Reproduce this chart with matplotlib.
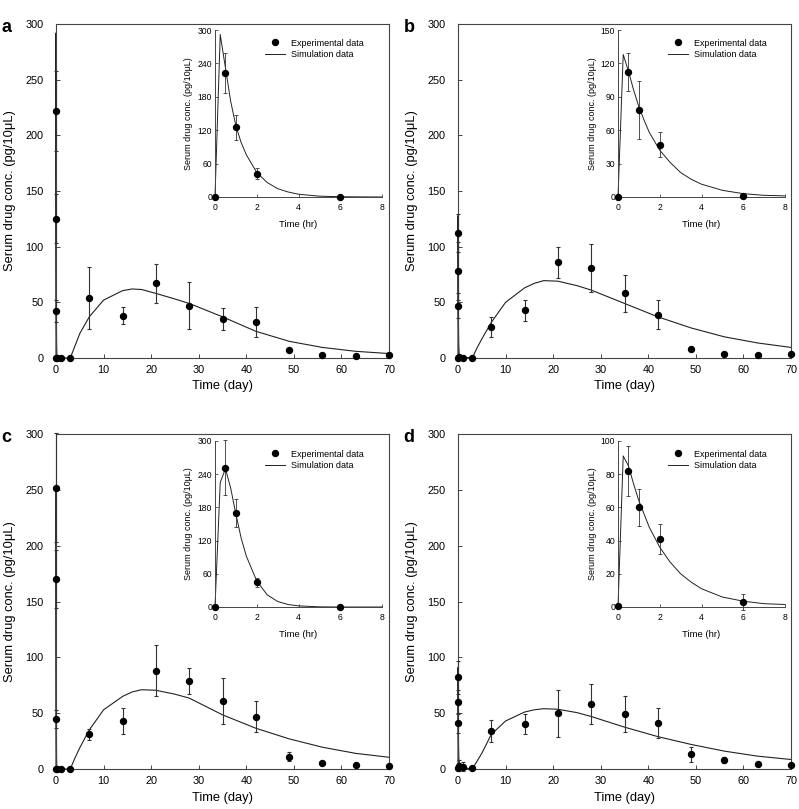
import matplotlib
matplotlib.use('Agg')
import matplotlib.pyplot as plt
import numpy as np

plt.rcParams['font.family'] = ['Liberation Sans', 'DejaVu Sans']

# ===== sampling times =====
hr_t = [0, 0.5, 1, 2, 6]                                  # hours (inset)
day_t = [1, 3, 7, 14, 21, 28, 35, 42, 49, 56, 63, 70]    # days
sim_hr_t = [0, 0.25, 0.5, 0.75, 1, 1.25, 1.5, 2, 2.5, 3, 3.5, 4, 5, 6, 7, 8]
sim_day_t = [3, 4, 5, 7, 10, 14, 16, 18, 21, 25, 28, 35, 42, 49, 56, 63, 70]

# ===== panel a =====
a_hr = [0, 222, 125, 42, 0]
a_hr_err = [0, 36, 22, 10, 0]
a_day = [0, 0, 54, 38, 67, 47, 35, 32, 7, 3, 2, 3]
a_day_err = [0, 0, 28, 7.5, 17.5, 21, 10, 13.5, 1.5, 1, 0.5, 1]
a_sim_hr = [0, 292, 232, 172, 128, 98, 76, 44, 26, 15, 9, 5, 1.5, 0.5, 0.2, 0]
a_sim_day = [0, 11, 22, 37, 52, 60.5, 62, 61.5, 58, 53, 49, 37, 24, 15, 9.5, 6, 4]

# ===== panel b =====
b_hr = [0, 112, 78, 47, 0.5]
b_hr_err = [0, 17, 26, 11, 0]
b_day = [0, 0, 28, 43, 86, 81, 58, 39, 8, 4, 3, 4]
b_day_err = [0, 0, 9, 9.5, 14, 21.5, 16.5, 13, 2, 1, 0.5, 1]
b_sim_hr = [0, 128, 113, 96, 81, 69, 58, 42, 31, 22, 16, 11.5, 6, 3, 1.5, 1]
b_sim_day = [0, 9, 17, 32, 50, 63, 67, 69.5, 69, 65, 61, 49, 37, 27, 19, 13.5, 9.5]

# ===== panel c =====
c_hr = [0, 252, 170, 45, 0]
c_hr_err = [0, 49, 26, 8, 0]
c_day = [0, 0, 31, 43, 88, 79, 61, 47, 11, 5, 4, 3]
c_day_err = [0, 0, 5, 12, 23, 11.5, 20.5, 13.5, 4, 1, 0.5, 0.5]
c_sim_hr = [0, 225, 250, 215, 168, 125, 92, 47, 22, 10, 4.5, 2, 0.3, 0, 0, 0]
c_sim_day = [0, 10, 19, 35, 53, 65, 69, 71, 70.5, 67, 63.5, 48.5, 36.5, 27, 19.5, 14, 10.5]

# ===== panel d =====
d_hr = [0.5, 82, 60, 41, 3]
d_hr_err = [0, 15, 11, 9, 5]
d_day = [2, 1, 34, 40, 50, 58, 49, 41, 13, 8, 4.5, 4]
d_day_err = [4, 0, 10, 9, 21, 18, 16, 13.5, 7, 3, 1, 0.5]
d_sim_hr = [0, 91, 85, 74, 64, 56, 48, 36, 27, 20, 15, 11, 6, 3.5, 2, 1.5]
d_sim_day = [0, 7, 14, 31, 43, 51, 53, 54, 53.5, 50.5, 47, 37.5, 29, 22, 16, 11.5, 8.5]

YLABEL = "Serum drug conc. (pg/10\u03bcL)"
LINE_C = '#222222'
ERR_C = '#333333'
SPINE_C = '#444444'


def px_rect(left, right, top, bottom, W=799, H=809):
    return [left / W, 1 - bottom / H, (right - left) / W, (bottom - top) / H]


def plot_panel(fig, main_px, inset_px, label, hr, hr_err, day, day_err,
               sim_hr, sim_day, inset_ymax, inset_step):
    # ---- main axes (days) ----
    ax = fig.add_axes(px_rect(*main_px))
    x_pts = [h / 24 for h in hr_t] + day_t
    y_pts = list(hr) + list(day)
    e_pts = list(hr_err) + list(day_err)
    sim_x = [h / 24 for h in sim_hr_t] + sim_day_t
    sim_y = list(sim_hr) + list(sim_day)
    ax.plot(sim_x, sim_y, color=LINE_C, lw=0.8, clip_on=False, zorder=2)
    ax.errorbar(x_pts, y_pts, yerr=e_pts, fmt='o', color='black', ms=4.3,
                ecolor=ERR_C, elinewidth=0.8, capsize=1.6, capthick=0.8,
                clip_on=False, zorder=3)
    ax.set_xlim(0, 70)
    ax.set_ylim(0, 300)
    ax.set_xticks(range(0, 71, 10))
    ax.set_yticks(range(0, 301, 50))
    ax.tick_params(direction='in', length=3, width=0.7, labelsize=7.8, color=SPINE_C)
    ax.tick_params(axis='y', pad=9)
    ax.tick_params(axis='x', pad=5)
    for s in ax.spines.values():
        s.set_linewidth(0.8)
        s.set_color(SPINE_C)
    ax.set_xlabel("Time (day)", fontsize=9.3, labelpad=4)
    ax.set_ylabel(YLABEL, fontsize=9.3, labelpad=7)
    fig.text(main_px[0] / 799 - 0.068, 1 - (main_px[2] - 5) / 809, label,
             fontsize=13, fontweight='bold', va='top', ha='left')

    # ---- inset (hours) ----
    ins = fig.add_axes(px_rect(*inset_px))
    ins.set_facecolor('white')
    ins.plot(sim_hr_t, sim_hr, color=LINE_C, lw=0.7, label="Simulation data",
             clip_on=False, zorder=2)
    ins.errorbar(hr_t, hr, yerr=hr_err, fmt='none', ecolor=ERR_C,
                 elinewidth=0.6, capsize=1.4, capthick=0.6, clip_on=False, zorder=3)
    ins.plot(hr_t, hr, 'o', color='black', ms=4.3, clip_on=False, zorder=4,
             label="Experimental data")
    ins.set_xlim(0, 8)
    ins.set_ylim(0, inset_ymax)
    ins.set_xticks(range(0, 9, 2))
    ins.set_yticks(np.arange(0, inset_ymax + 1, inset_step))
    ins.spines['top'].set_visible(False)
    ins.spines['right'].set_visible(False)
    for s in ('left', 'bottom'):
        ins.spines[s].set_linewidth(0.7)
        ins.spines[s].set_color(SPINE_C)
    ins.tick_params(direction='in', length=2, width=0.6, labelsize=6.2, color=SPINE_C)
    ins.tick_params(axis='y', pad=2)
    ins.tick_params(axis='x', pad=4)
    ins.set_xlabel("Time (hr)", fontsize=6.8, labelpad=6)
    ins.set_ylabel(YLABEL, fontsize=6.5, labelpad=3)
    h, l = ins.get_legend_handles_labels()
    order = [l.index("Experimental data"), l.index("Simulation data")]
    ins.legend([h[i] for i in order], [l[i] for i in order], loc='upper left',
               bbox_to_anchor=(0.28, 0.97), frameon=False, fontsize=6.5,
               handlelength=2.2, handletextpad=0.6, labelspacing=0.3,
               borderaxespad=0, numpoints=1)


fig = plt.figure(figsize=(7.99, 8.09), dpi=100)

plot_panel(fig, (56, 389, 24, 358), (215, 382, 30, 197), 'a',
           a_hr, a_hr_err, a_day, a_day_err, a_sim_hr, a_sim_day, 300, 60)
plot_panel(fig, (458, 791, 24, 358), (618, 785, 30, 197), 'b',
           b_hr, b_hr_err, b_day, b_day_err, b_sim_hr, b_sim_day, 150, 30)
plot_panel(fig, (56, 389, 434, 769), (215, 382, 441, 607), 'c',
           c_hr, c_hr_err, c_day, c_day_err, c_sim_hr, c_sim_day, 300, 60)
plot_panel(fig, (458, 791, 434, 769), (618, 785, 441, 607), 'd',
           d_hr, d_hr_err, d_day, d_day_err, d_sim_hr, d_sim_day, 100, 20)

plt.savefig('out.png', dpi=100)
